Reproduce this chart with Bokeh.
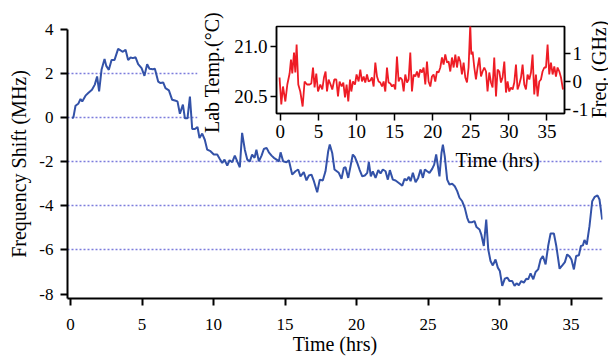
import math
from bokeh.plotting import figure
from bokeh.models import Range1d, LinearAxis, FixedTicker, BoxAnnotation, NumeralTickFormatter, Label
from bokeh.embed import file_html
from bokeh.resources import INLINE

FONT = "Liberation Serif"

# ---- main trace: frequency shift (MHz) vs time (hrs)
shift_t = [0.1, 0.2, 0.35, 0.54, 0.7, 0.82, 1.05, 1.24, 1.5, 1.7, 1.86, 2.0, 2.17, 2.38, 2.5, 2.68,
           2.87, 3.08, 3.33, 3.5, 3.66, 3.85, 4.03, 4.2, 4.36, 4.55, 4.73, 4.97, 5.17, 5.36, 5.52,
           5.76, 5.9, 6.13, 6.3, 6.48, 6.64, 6.88, 7.11, 7.3, 7.48, 7.65, 7.86, 8.0, 8.18, 8.35,
           8.51, 8.7, 8.88, 9.02, 9.21, 9.39,
           9.56, 9.79, 10.02, 10.26, 10.44, 10.61, 10.77, 10.96, 11.12, 11.31, 11.49, 11.66, 11.84,
           12.0, 12.19, 12.36, 12.54, 12.7, 12.87, 13.0, 13.17, 13.36, 13.52, 13.71, 13.87, 14.06,
           14.22, 14.41, 14.57, 14.69, 14.87, 15.1, 15.27, 15.5, 15.73, 15.92, 16.08, 16.31, 16.5,
           16.67, 16.85, 17.02, 17.25, 17.43, 17.64, 17.83, 18.02, 18.13, 18.3, 18.46,
           18.76, 18.95, 19.11, 19.23, 19.42, 19.58, 19.74, 19.88, 20.05, 20.21, 20.4, 20.58, 20.75,
           20.86, 21.0, 21.14, 21.33, 21.52, 21.68, 21.84, 22.03, 22.19, 22.33, 22.54, 22.73, 22.96,
           23.2, 23.36, 23.5, 23.66, 23.78, 23.94, 24.13, 24.31, 24.48, 24.64, 24.78, 24.94, 25.1,
           25.29, 25.43, 25.57, 25.69, 25.8, 25.94, 26.04, 26.17, 26.34, 26.5, 26.69, 26.87, 27.04,
           27.2, 27.39, 27.57, 27.74,
           27.86, 28.09, 28.25, 28.39, 28.6, 28.72, 28.9, 29.07, 29.21, 29.37, 29.53, 29.72, 29.88,
           30.02, 30.19, 30.37, 30.54, 30.7, 30.89, 31.05, 31.19, 31.35, 31.52, 31.7, 31.87, 32.0,
           32.17, 32.36, 32.52, 32.7, 32.87, 33.03, 33.22, 33.4, 33.57, 33.8, 33.97, 34.2, 34.39,
           34.57, 34.73, 34.9, 35.03, 35.2, 35.36, 35.55, 35.69, 35.83, 35.94, 36.1, 36.29, 36.48,
           36.66, 36.85, 36.99, 37.18]
shift_mhz = [0.0, 0.0, 0.54, 0.63, 0.85, 0.74, 1.0, 1.12, 1.27, 1.5, 1.87, 1.19, 2.17, 2.66, 2.35, 2.17,
             2.62, 2.62, 3.12, 3.05, 2.99, 3.08, 2.62, 2.73, 2.7, 2.74, 2.43, 2.25, 1.9, 2.43, 2.22,
             2.2, 2.22, 1.64, 1.57, 1.6, 1.34, 1.24, 0.81, 0.78, 0.74, 0.18, 0.59, -0.03, -0.03, 0.96,
             -0.51, -0.51, -0.42, -0.92, -0.72, -1.0,
             -1.45, -1.52, -1.67, -1.67, -1.87, -2.05, -1.9, -2.17, -1.93, -2.02, -1.72, -1.98, -2.25,
             -0.69, -1.45, -1.9, -1.98, -1.67, -1.82, -1.45, -1.98, -1.72, -1.42, -1.37, -1.57, -1.72,
             -1.82, -1.9, -1.98, -1.57, -1.98, -2.02, -1.93, -2.58, -2.43, -2.35, -2.66, -2.47, -2.84,
             -2.62, -2.58, -2.88, -3.38, -2.81, -2.85, -2.43, -1.52, -1.22, -1.6, -2.35,
             -2.5, -2.77, -2.28, -2.25, -2.73, -2.2, -1.67, -1.78, -2.05, -2.35, -2.66, -2.62, -2.5,
             -2.02, -2.66, -2.43, -2.73, -2.38, -2.53, -2.35, -2.43, -2.81, -2.38, -2.81, -2.85, -2.96,
             -3.08, -2.77, -2.85, -2.68, -2.88, -2.5, -2.93, -2.73, -2.35, -2.73, -2.35, -2.43, -2.5,
             -2.32, -2.13, -1.67, -2.2, -2.66, -1.6, -1.22, -1.75, -2.81, -3.03, -3.0, -3.11, -3.33,
             -3.63, -3.79, -4.09, -4.54,
             -4.74, -4.74, -4.69, -4.96, -5.07, -5.29, -5.82, -4.62, -5.97, -6.5, -6.7, -6.43, -6.8,
             -6.95, -7.63, -7.3, -7.25, -7.41, -7.41, -7.63, -7.51, -7.6, -7.41, -7.48, -7.3, -7.33,
             -7.06, -7.33, -7.0, -6.88, -6.43, -6.27, -6.65, -5.82, -5.25, -5.25, -5.82, -6.85, -6.7,
             -6.55, -6.2, -6.3, -6.43, -6.88, -6.27, -6.24, -5.82, -5.79, -5.55, -5.75, -4.92, -3.79,
             -3.59, -3.52, -3.71, -4.62]

# ---- inset trace: lab temperature (deg C) vs time (hrs)
temp_t = [-0.1, 0.13, 0.35, 0.66, 0.92, 1.22, 1.4, 1.57, 1.8, 1.97, 2.14, 2.36, 2.62, 2.93, 3.19, 3.5,
          3.85, 4.07, 4.29, 4.5, 4.72, 4.95, 5.25, 5.51, 5.73, 5.94, 6.13, 6.34, 6.6, 6.82, 7.09,
          7.35, 7.57, 7.78, 8.05, 8.27, 8.49, 8.7, 8.92, 9.15, 9.32, 9.54, 9.8, 10.01, 10.28, 10.5,
          10.72, 10.94, 11.15, 11.38, 11.59, 11.81, 12.03, 12.25, 12.47, 12.69, 12.9, 13.12, 13.35,
          13.56, 13.78, 14.0, 14.21, 14.44, 14.66, 14.87, 15.09, 15.31, 15.53, 15.75, 15.97, 16.19,
          16.4, 16.63, 16.84, 17.06, 17.28, 17.5, 17.72, 17.94, 18.15, 18.37, 18.6, 18.81, 19.03,
          19.25, 19.46, 19.69, 19.9, 20.12, 20.34, 20.56, 20.77, 21.0, 21.22, 21.43, 21.65, 21.88,
          22.09, 22.31, 22.53, 22.75, 22.97, 23.19, 23.4, 23.62, 23.84, 24.06, 24.28, 24.5, 24.71,
          24.93, 25.07, 25.24, 25.46, 25.68, 25.89, 26.12, 26.34, 26.55, 26.77, 27.0, 27.2, 27.43,
          27.65, 27.86, 28.08, 28.31, 28.52, 28.74, 28.96, 29.17, 29.4, 29.62, 29.83, 30.05, 30.27,
          30.49, 30.71, 30.93, 31.14, 31.36, 31.59, 31.8, 32.02, 32.24, 32.45, 32.68, 32.9, 33.11,
          33.33, 33.55, 33.77, 33.99, 34.21, 34.42, 34.65, 34.87, 35.08, 35.3, 35.52, 35.74, 35.96,
          36.18, 36.39, 36.62, 36.84, 37.1]
temp_c = [20.69, 20.42, 20.6, 20.45, 20.62, 20.73, 20.87, 20.73, 20.94, 20.74, 21.02, 20.62, 20.55,
          20.4, 20.65, 20.62, 20.62, 20.63, 20.79, 20.59, 20.73, 20.55, 20.62, 20.57, 20.69, 20.75,
          20.55, 20.67, 20.62, 20.57, 20.67, 20.67, 20.5, 20.65, 20.6, 20.64, 20.49, 20.62, 20.45,
          20.67, 20.55, 20.65, 20.62, 20.72, 20.65, 20.77, 20.65, 20.7, 20.64, 20.72, 20.65, 20.66,
          20.69, 20.6, 20.84, 20.7, 20.65, 20.64, 20.6, 20.65, 20.55, 20.79, 20.64, 20.63, 20.6,
          20.62, 20.57, 20.9, 20.65, 20.69, 20.67, 20.55, 20.72, 20.64, 20.67, 20.94, 20.55, 20.72,
          20.7, 20.75, 20.69, 20.77, 20.74, 20.79, 20.62, 20.85, 20.65, 20.6, 20.7, 20.72, 20.65,
          20.75, 20.74, 20.79, 20.89, 20.82, 20.92, 20.84, 20.85, 20.75, 20.89, 20.79, 20.92, 20.79,
          20.9, 20.85, 20.72, 20.84, 20.69, 20.64, 20.79, 21.22, 20.92, 20.95, 20.79, 20.67, 20.79,
          20.89, 20.7, 20.75, 20.79, 20.75, 20.55, 20.74, 20.64, 20.59, 20.89, 20.5, 20.77, 20.75,
          20.64, 20.69, 20.85, 20.54, 20.65, 20.55, 20.59, 20.57, 20.64, 20.82, 20.57, 20.62, 20.69,
          20.82, 20.62, 20.57, 20.72, 20.67, 20.74, 20.92, 20.52, 20.72, 20.5, 20.65, 20.67, 20.75,
          20.79, 20.79, 21.02, 20.72, 20.84, 20.72, 20.8, 20.7, 20.79, 20.75, 20.69, 20.57]

main_xticks = [0, 5, 10, 15, 20, 25, 30, 35]
main_yticks = [-8, -6, -4, -2, 0, 2, 4]
grid_levels = [-6, -4, -2, 0, 2, 4]
inset_xticks = [0, 5, 10, 15, 20, 25, 30, 35]
inset_temp_ticks = [20.5, 21.0]
inset_freq_ticks = [-1, 0, 1]


def style_axis(ax, tick_size, label_size, width, tick_out):
    ax.axis_line_color = "black"
    ax.axis_line_width = width
    ax.major_tick_line_color = "black"
    ax.major_tick_line_width = width
    ax.major_tick_out = tick_out
    ax.major_tick_in = 0
    ax.minor_tick_line_color = None
    ax.major_label_text_font = FONT
    ax.major_label_text_font_size = tick_size
    ax.major_label_text_color = "black"
    ax.axis_label_text_font = FONT
    ax.axis_label_text_font_size = label_size
    ax.axis_label_text_font_style = "normal"
    ax.axis_label_text_color = "black"


def hyphen_labels(ticks):
    return {t: str(t) for t in ticks if t < 0}


# ================= main figure =================
main = figure(width=608, height=362, output_backend="svg", toolbar_location=None,
              x_range=Range1d(-0.21, 37.2), y_range=Range1d(-8.2, 4.0),
              min_border_left=67, min_border_right=6, min_border_top=29, min_border_bottom=64)
main.outline_line_color = None
main.background_fill_color = "white"
main.border_fill_color = "white"
main.xgrid.visible = False
main.ygrid.ticker = FixedTicker(ticks=grid_levels)
main.ygrid.grid_line_color = "#7c7cdc"
main.ygrid.grid_line_dash = "2 2"
main.ygrid.grid_line_width = 1.4

for ax in main.xaxis:
    ax.ticker = FixedTicker(ticks=main_xticks)
    ax.axis_label = "Time (hrs)"
    style_axis(ax, "17px", "20px", 2, 7)
    ax.major_label_standoff = 13
    ax.axis_label_standoff = 0
for ax in main.yaxis:
    ax.ticker = FixedTicker(ticks=main_yticks)
    ax.major_label_overrides = hyphen_labels(main_yticks)
    ax.axis_label = "Frequency Shift (MHz)"
    style_axis(ax, "17px", "20px", 2, 7)
    ax.major_label_standoff = 7
    ax.axis_label_standoff = 6

# white area behind the inset
main.add_layout(BoxAnnotation(left=8.88, bottom=-1.0, fill_color="white", fill_alpha=1.0,
                              line_color=None, level="underlay"))

main.line(shift_t, shift_mhz, line_color="#3352a8", line_width=2)

# inset's bottom label (drawn on the main canvas, below the inset)
main.add_layout(Label(x=29.86, y=-1.9, text="Time (hrs)", text_font=FONT, text_font_size="20px",
                      text_align="center", text_baseline="middle", text_color="black"))

# ================= inset figure =================
inset = figure(width=411, height=153, output_backend="svg", toolbar_location=None,
               x_range=Range1d(-0.5, 37.3), y_range=Range1d(20.33, 21.2),
               min_border_left=79, min_border_right=44, min_border_top=26, min_border_bottom=40)
inset.extra_y_ranges = {"freq": Range1d(-1.14, 1.96)}
inset.border_fill_color = None
inset.background_fill_color = "white"
inset.outline_line_color = "black"
inset.outline_line_width = 1.5
inset.outline_line_alpha = 1.0
inset.grid.visible = False

for ax in inset.xaxis:
    ax.ticker = FixedTicker(ticks=inset_xticks)
    style_axis(ax, "19px", "20px", 1.5, 7)
    ax.major_label_standoff = 4
for ax in inset.yaxis:
    ax.ticker = FixedTicker(ticks=inset_temp_ticks)
    ax.formatter = NumeralTickFormatter(format="0.0")
    ax.axis_label = "Lab  Temp.(°C)"
    style_axis(ax, "19px", "20px", 1.5, 6)
    ax.major_label_standoff = 3
    ax.axis_label_standoff = 8

freq_axis = LinearAxis(y_range_name="freq", ticker=FixedTicker(ticks=inset_freq_ticks),
                       major_label_overrides=hyphen_labels(inset_freq_ticks))
style_axis(freq_axis, "19px", "20px", 1.5, 6)
freq_axis.major_label_standoff = 2
inset.add_layout(freq_axis, "right")

inset.line(temp_t, temp_c, line_color="#ee1c25", line_width=1.8)

inset.styles = {"position": "absolute", "left": "197px", "top": "0px"}

# ================= right-hand label of the inset (own small canvas) =================
freq_label = figure(width=20, height=112, output_backend="svg", toolbar_location=None,
                    x_range=Range1d(0, 1), y_range=Range1d(0, 1),
                    x_axis_location=None, y_axis_location=None, min_border=0)
freq_label.grid.visible = False
freq_label.outline_line_color = None
freq_label.background_fill_color = None
freq_label.border_fill_color = None
freq_label.add_layout(Label(x=0.5, y=0.5, text="Freq. (GHz)", text_font=FONT, text_font_size="20px",
                            text_align="center", text_baseline="middle", text_color="black",
                            angle=math.pi / 2))
freq_label.styles = {"position": "absolute", "left": "588px", "top": "13px"}

open("out.html", "w").write(file_html([main, inset, freq_label], INLINE))
